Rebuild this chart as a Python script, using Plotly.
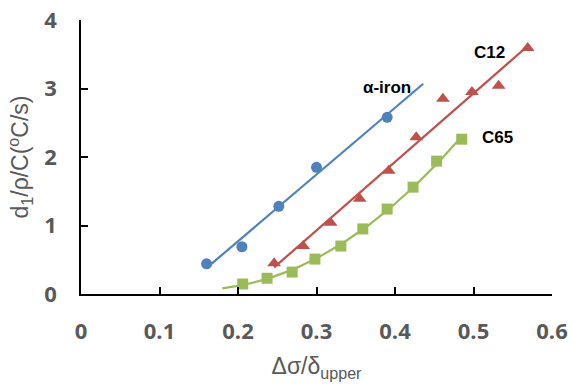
import numpy as np
import plotly.graph_objects as go

# α-iron
iron_x = [0.160, 0.205, 0.252, 0.300, 0.390]
iron_y = [0.44, 0.69, 1.28, 1.85, 2.58]
# C12
c12_x = [0.246, 0.283, 0.318, 0.355, 0.392, 0.427, 0.461, 0.498, 0.532, 0.569]
c12_y = [0.45, 0.70, 1.04, 1.39, 1.80, 2.29, 2.85, 2.95, 3.04, 3.59]
# C65
c65_x = [0.206, 0.237, 0.269, 0.298, 0.331, 0.359, 0.390, 0.423, 0.453, 0.485]
c65_y = [0.146, 0.23, 0.32, 0.51, 0.70, 0.95, 1.24, 1.56, 1.94, 2.26]

x_ticks = [0, 0.1, 0.2, 0.3, 0.4, 0.5, 0.6]
y_ticks = [0, 1, 2, 3, 4]

# trendline spans (Excel-style forecast)
iron_trend_span = [0.160, 0.436]
c12_trend_span = [0.246, 0.569]
c65_trend_span = [0.180, 0.485]

BLUE = "#4F81BD"
RED = "#C0504D"
GREEN = "#9BBB59"

fig = go.Figure()

def linear_trend(xs, ys, span):
    k, b = np.polyfit(xs, ys, 1)
    tx = np.array(span)
    return tx, k * tx + b

tx, ty = linear_trend(iron_x, iron_y, iron_trend_span)
fig.add_trace(go.Scatter(x=tx, y=ty, mode="lines", line=dict(color=BLUE, width=2.2), showlegend=False))
fig.add_trace(go.Scatter(x=iron_x, y=iron_y, mode="markers",
                         marker=dict(color=BLUE, size=11, symbol="circle"), showlegend=False))

tx, ty = linear_trend(c12_x, c12_y, c12_trend_span)
fig.add_trace(go.Scatter(x=tx, y=ty, mode="lines", line=dict(color=RED, width=2.2), showlegend=False))
fig.add_trace(go.Scatter(x=c12_x, y=c12_y, mode="markers",
                         marker=dict(color=RED, size=12, symbol="triangle-up"), showlegend=False))

# C65 polynomial trend
p = np.polyfit(c65_x, c65_y, 2)
tx = np.linspace(c65_trend_span[0], c65_trend_span[1], 60)
ty = np.polyval(p, tx)
fig.add_trace(go.Scatter(x=tx, y=ty, mode="lines", line=dict(color=GREEN, width=2.2), showlegend=False))
fig.add_trace(go.Scatter(x=c65_x, y=c65_y, mode="markers",
                         marker=dict(color=GREEN, size=11, symbol="square"), showlegend=False))

label_font = dict(family="Liberation Sans, Arial", size=17, color="black")
fig.add_annotation(x=0.390, y=3.02, text="<b>α-iron</b>", showarrow=False, font=label_font)
fig.add_annotation(x=0.520, y=3.52, text="<b>C12</b>", showarrow=False, font=label_font)
fig.add_annotation(x=0.530, y=2.29, text="<b>C65</b>", showarrow=False, font=label_font)

tick_font = dict(family="Open Sans, Liberation Sans", size=22, color="#595959")
title_font = dict(family="Liberation Sans, Arial", size=23, color="#595959")

fig.update_layout(
    width=575, height=392,
    margin=dict(l=81, r=23, t=20, b=98),
    plot_bgcolor="white", paper_bgcolor="white",
    xaxis=dict(range=[0, 0.6], tickvals=x_ticks, ticktext=[f"<b>{v:g}</b>" for v in x_ticks],
               showgrid=False, zeroline=False, showline=True, linecolor="black", linewidth=1.5,
               ticks="inside", ticklen=7, tickcolor="black", tickwidth=1.5, automargin=False,
               tickfont=tick_font, ticklabelstandoff=17, ticklabeloverflow="allow",
               title=dict(text="Δσ/δ<sub>upper</sub>", font=title_font, standoff=14)),
    yaxis=dict(range=[0, 4], tickvals=y_ticks, ticktext=[f"<b>{v}</b>" for v in y_ticks],
               showgrid=False, zeroline=False, showline=True, linecolor="black", linewidth=1.5,
               ticks="inside", ticklen=7, tickcolor="black", tickwidth=1.5, automargin=False,
               tickfont=tick_font, ticklabelstandoff=18, ticklabeloverflow="allow",
               title=dict(text="d<sub>1</sub>/ρ/C(<sup>o</sup>C/s)", font=title_font, standoff=9)),
)

# remove the default page margin so the figure fills the window exactly
fig.write_html("out.html", config={"displayModeBar": False},
               post_script="document.body.style.margin='0';")
